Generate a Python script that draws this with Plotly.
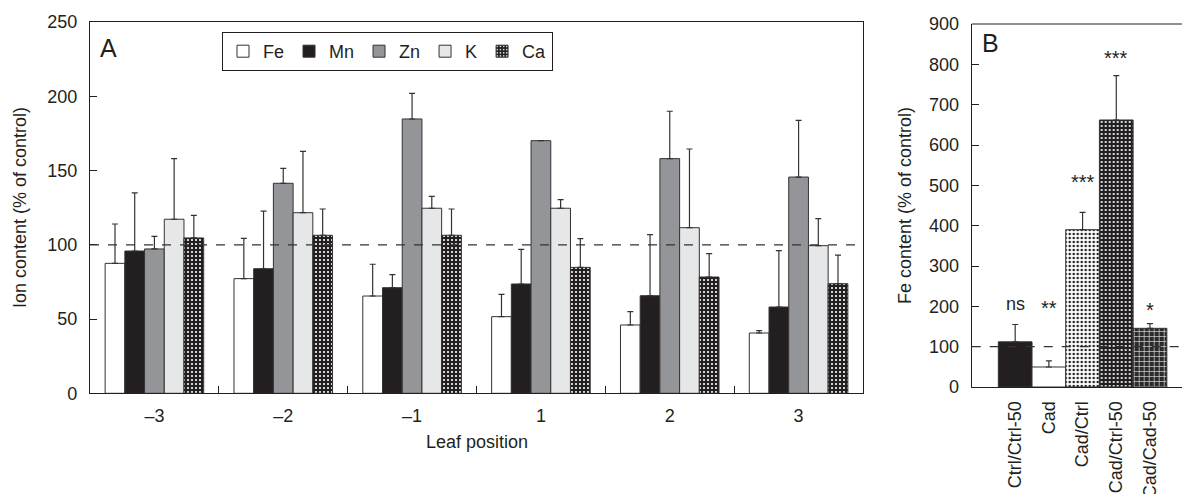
import plotly.graph_objects as go

# ---------------- data ----------------
leaf_positions = ["\u20133", "\u20132", "\u20131", "1", "2", "3"]
ions = ["Fe", "Mn", "Zn", "K", "Ca"]
fe_vals = [87.5, 77.2, 65.5, 51.6, 46.0, 40.6]
fe_err = [26.5, 27.1, 21.4, 15.0, 9.0, 1.6]
mn_vals = [95.8, 83.9, 71.1, 73.6, 65.7, 58.1]
mn_err = [39.2, 38.8, 8.8, 23.3, 41.1, 37.9]
zn_vals = [97.2, 141.4, 184.7, 170.1, 158.0, 145.6]
zn_err = [8.5, 10.1, 17.3, None, 31.9, 38.2]
k_vals = [117.2, 121.6, 124.6, 124.6, 111.5, 99.4]
k_err = [40.8, 41.3, 8.0, 5.8, 53.0, 18.2]
ca_vals = [104.6, 106.4, 106.4, 84.8, 78.3, 73.8]
ca_err = [15.2, 17.7, 17.7, 19.3, 15.7, 19.3]

treatments = ["Ctrl/Ctrl-50", "Cad", "Cad/Ctrl", "Cad/Ctrl-50", "Cad/Cad-50"]
fe_b_vals = [112, 49.6, 390, 662, 145.5]
fe_b_err = [43, 15.4, 43, 110, 11.5]
sig_labels = ["ns", "**", "***", "***", "*"]
sig_y = [206, 195, 508, 816, 192]

control_level = 100

# ---------------- style ----------------
INK = "#231f20"
EDGE = "#333333"
FONT = "Liberation Sans, Arial, sans-serif"
W, H = 1182, 494

def px_x(p):
    return p / W

def px_y(p):
    return (H - p) / H

fig = go.Figure()

styles = {
    "Fe": dict(color="white"),
    "Mn": dict(color=INK),
    "Zn": dict(color="#939598"),
    "K": dict(color="#e6e7e8"),
    "Ca": dict(color=INK, pattern=dict(shape=".", fgcolor="white", bgcolor=INK,
                                       size=4, solidity=0.22, fillmode="replace")),
}
series = {"Fe": (fe_vals, fe_err), "Mn": (mn_vals, mn_err), "Zn": (zn_vals, zn_err),
          "K": (k_vals, k_err), "Ca": (ca_vals, ca_err)}

for ion in ions:
    vals, err = series[ion]
    fig.add_trace(go.Bar(
        x=leaf_positions, y=vals, name=ion,
        marker=dict(**styles[ion], line=dict(color=EDGE, width=1)),
        error_y=dict(type="data", array=err, arrayminus=[0] * len(err), symmetric=False,
                     color=EDGE, thickness=1.2, width=3),
        xaxis="x", yaxis="y",
    ))

b_styles = [
    dict(color=INK),
    dict(color="white"),
    dict(color="white", pattern=dict(shape=".", fgcolor=INK, bgcolor="white", size=4,
                                     solidity=0.3, fillmode="replace")),
    dict(color=INK, pattern=dict(shape=".", fgcolor="white", bgcolor=INK, size=4,
                                 solidity=0.22, fillmode="replace")),
    dict(color="#2b2b2b", pattern=dict(shape="+", fgcolor="#dddddd", bgcolor="#2b2b2b",
                                       size=5, solidity=0.25, fillmode="replace")),
]
for i, t in enumerate(treatments):
    fig.add_trace(go.Bar(
        x=[t], y=[fe_b_vals[i]], width=1.0, showlegend=False, offsetgroup="b",
        marker=dict(**b_styles[i], line=dict(color=EDGE, width=1)),
        error_y=dict(type="data", array=[fe_b_err[i]], arrayminus=[0], symmetric=False,
                     color=EDGE, thickness=1.2, width=3),
        xaxis="x2", yaxis="y2",
    ))

tickfont = dict(family=FONT, size=18, color=INK)

fig.update_layout(
    width=W, height=H,
    margin=dict(l=0, r=0, t=0, b=0),
    paper_bgcolor="white", plot_bgcolor="white",
    barmode="group", bargap=0.235, bargroupgap=0,
    font=dict(family=FONT, size=18, color=INK),
    showlegend=True,
    legend=dict(orientation="h", x=px_x(222), y=px_y(32), xanchor="left", yanchor="top",
                bordercolor=INK, borderwidth=1, bgcolor="white",
                font=dict(family=FONT, size=18, color=INK),
                itemwidth=30, tracegroupgap=0),
    xaxis=dict(domain=[px_x(90), px_x(863)], anchor="y", type="category",
               range=[-0.5, 5.5], showline=True, linecolor=INK, linewidth=1.2, mirror=True,
               ticks="inside", tickson="boundaries", ticklen=7, tickcolor=INK,
               tickfont=tickfont, ticklabelstandoff=6, showgrid=False, zeroline=False,
               automargin=False),
    yaxis=dict(domain=[px_y(393.3), px_y(22)], anchor="x", range=[0, 250],
               tickvals=[0, 50, 100, 150, 200, 250], showline=True, linecolor=INK,
               linewidth=1.2, mirror=True, ticks="inside", ticklen=7, tickcolor=INK,
               tickfont=tickfont, ticklabelstandoff=8, showgrid=False, zeroline=False,
               automargin=False),
    xaxis2=dict(domain=[px_x(971.7), 1.0], anchor="y2", type="category",
                categoryorder="array", categoryarray=treatments,
                range=[-1.29, 4.95], showline=True, linecolor=INK, linewidth=1.2,
                ticks="", tickangle=-90, tickfont=tickfont, ticklabelstandoff=6,
                showgrid=False, zeroline=False, automargin=False),
    yaxis2=dict(domain=[px_y(387), px_y(24)], anchor="x2", range=[0, 900],
                tickvals=list(range(0, 1000, 100)), showline=True, linecolor=INK,
                linewidth=1.2, ticks="inside", ticklen=7, tickcolor=INK,
                tickfont=tickfont, ticklabelstandoff=8, showgrid=False, zeroline=False,
                automargin=False),
)

# dashed control lines
fig.add_shape(type="line", xref="x domain", yref="y", x0=0, x1=1, y0=control_level,
              y1=control_level, line=dict(color=EDGE, width=1.2, dash="dash"))
fig.add_shape(type="line", xref="x2 domain", yref="y2", x0=0, x1=1, y0=control_level,
              y1=control_level, line=dict(color=EDGE, width=1.2, dash="dash"))
# top frame line of panel B
fig.add_shape(type="line", xref="x2 domain", yref="y2 domain", x0=0, x1=1, y0=1, y1=1,
              line=dict(color=INK, width=1.2))

ann = []
ann.append(dict(text="A", x=px_x(98), y=px_y(48), xref="paper", yref="paper",
                xanchor="left", yanchor="middle", showarrow=False,
                font=dict(family=FONT, size=25, color=INK)))
ann.append(dict(text="B", x=px_x(980), y=px_y(43), xref="paper", yref="paper",
                xanchor="left", yanchor="middle", showarrow=False,
                font=dict(family=FONT, size=25, color=INK)))
ann.append(dict(text="Ion content (% of control)", x=px_x(20), y=px_y(208),
                xref="paper", yref="paper", textangle=-90, showarrow=False,
                xanchor="center", yanchor="middle", font=dict(family=FONT, size=18, color=INK)))
ann.append(dict(text="Fe content (% of control)", x=px_x(905), y=px_y(206),
                xref="paper", yref="paper", textangle=-90, showarrow=False,
                xanchor="center", yanchor="middle", font=dict(family=FONT, size=18, color=INK)))
ann.append(dict(text="Leaf position", x=px_x(476.5), y=px_y(442), xref="paper", yref="paper",
                showarrow=False, xanchor="center", yanchor="middle",
                font=dict(family=FONT, size=18, color=INK)))
for t, lab, yy in zip(treatments, sig_labels, sig_y):
    ann.append(dict(text=lab, x=t, y=yy, xref="x2", yref="y2", showarrow=False,
                    xanchor="center", yanchor="middle",
                    font=dict(family=FONT, size=18 if lab == "ns" else 20, color=INK)))
fig.update_layout(annotations=ann)

fig.write_html("out.html")
